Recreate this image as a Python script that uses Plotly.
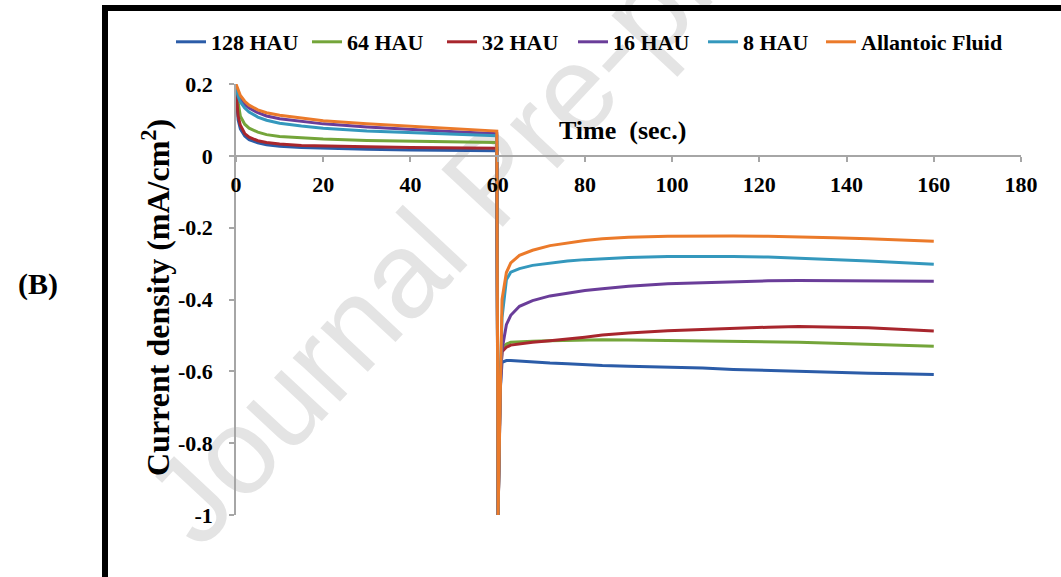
import plotly.graph_objects as go

# ---------------- data ----------------
series_names = ["128 HAU", "64 HAU", "32 HAU", "16 HAU", "8 HAU", "Allantoic Fluid"]
series_colors = ["#2B5CA8", "#74A53A", "#A8262D", "#6A3D99", "#3498BD", "#EB7A2A"]

t_phase1 = [0, 0.5, 1, 2, 3, 5, 7, 10, 15, 20, 30, 40, 50, 59.8]
t_spike = [60.1]
t_phase2 = [60.6, 61, 62, 63, 65, 68, 72, 76, 80, 84, 90, 99, 107, 114, 122, 129, 137, 145, 152, 160]

blue_1 = [0.175, 0.100, 0.075, 0.055, 0.045, 0.036, 0.031, 0.027, 0.023, 0.021, 0.018, 0.016, 0.015, 0.014]
green_1 = [0.185, 0.140, 0.110, 0.088, 0.077, 0.066, 0.059, 0.054, 0.050, 0.047, 0.043, 0.041, 0.039, 0.037]
red_1 = [0.180, 0.110, 0.085, 0.062, 0.052, 0.042, 0.037, 0.033, 0.029, 0.027, 0.025, 0.023, 0.022, 0.021]
purple_1 = [0.195, 0.175, 0.160, 0.143, 0.133, 0.120, 0.111, 0.103, 0.095, 0.089, 0.080, 0.073, 0.067, 0.062]
cyan_1 = [0.190, 0.165, 0.150, 0.133, 0.122, 0.108, 0.099, 0.091, 0.083, 0.077, 0.069, 0.064, 0.059, 0.056]
orange_1 = [0.200, 0.185, 0.168, 0.152, 0.141, 0.128, 0.120, 0.113, 0.105, 0.098, 0.089, 0.082, 0.075, 0.069]

spike_value = [-1.0]

blue_2 = [-0.650, -0.575, -0.570, -0.570, -0.572, -0.574, -0.577, -0.579, -0.582, -0.584,
          -0.586, -0.588, -0.591, -0.595, -0.598, -0.600, -0.603, -0.605, -0.607, -0.609]
green_2 = [-0.620, -0.535, -0.524, -0.519, -0.517, -0.516, -0.515, -0.514, -0.513, -0.512,
           -0.513, -0.514, -0.515, -0.516, -0.517, -0.519, -0.522, -0.525, -0.527, -0.530]
red_2 = [-0.620, -0.545, -0.533, -0.527, -0.523, -0.519, -0.515, -0.511, -0.505, -0.499,
         -0.493, -0.487, -0.483, -0.480, -0.477, -0.475, -0.476, -0.479, -0.483, -0.488]
purple_2 = [-0.650, -0.540, -0.470, -0.444, -0.419, -0.403, -0.390, -0.382, -0.375, -0.370,
            -0.363, -0.356, -0.353, -0.350, -0.348, -0.347, -0.347, -0.347, -0.348, -0.349]
cyan_2 = [-0.620, -0.450, -0.345, -0.324, -0.314, -0.305, -0.298, -0.293, -0.289, -0.286,
          -0.283, -0.280, -0.279, -0.280, -0.282, -0.285, -0.289, -0.293, -0.297, -0.302]
orange_2 = [-0.600, -0.400, -0.325, -0.298, -0.277, -0.263, -0.250, -0.242, -0.236, -0.231,
            -0.227, -0.224, -0.223, -0.223, -0.224, -0.225, -0.228, -0.231, -0.234, -0.238]

x_tickvals = [0, 20, 40, 60, 80, 100, 120, 140, 160, 180]
x_ticktext = ["0", "20", "40", "60", "80", "100", "120", "140", "160", "180"]
y_tickvals = [0.2, 0, -0.2, -0.4, -0.6, -0.8, -1.0]
y_ticktext = ["0.2", "0", "-0.2", "-0.4", "-0.6", "-0.8", "-1"]

x_title = "Time  (sec.)"
y_title = "Current density (mA/cm<sup>2</sup>)"
panel_label = "(B)"
watermark = "Journal Pre-proof"

phase1 = [blue_1, green_1, red_1, purple_1, cyan_1, orange_1]
phase2 = [blue_2, green_2, red_2, purple_2, cyan_2, orange_2]

# legend entry widths (px, style only)
legend_entry_px = [91, 90, 86, 85, 73, 150]

# ---------------- figure ----------------
W, H = 1061, 577
x_dom = [236 / W, 1021 / W]
y_dom = [1 - 515 / H, 1 - 84 / H]
y_range = [-1.0, 0.2]
zero_paper = y_dom[0] + (0 - y_range[0]) / (y_range[1] - y_range[0]) * (y_dom[1] - y_dom[0])

SERIF = "Liberation Serif, Times New Roman, serif"

fig = go.Figure()
for name, color, v1, v2, lw in zip(series_names, series_colors, phase1, phase2, legend_entry_px):
    fig.add_trace(go.Scatter(
        x=t_phase1 + t_spike + t_phase2,
        y=v1 + spike_value + v2,
        mode="lines",
        name=name,
        legendwidth=lw,
        line=dict(color=color, width=3),
    ))

axis_grey = "#A6A6A6"
fig.update_layout(
    width=W, height=H,
    margin=dict(l=0, r=0, t=0, b=0, autoexpand=False),
    paper_bgcolor="white", plot_bgcolor="white",
    font=dict(family=SERIF, color="black"),
    showlegend=True,
    legend=dict(
        orientation="h", x=171 / W, xanchor="left", y=1 - 42 / H, yanchor="middle",
        font=dict(family=SERIF, size=22, weight="bold", color="black"),
        bgcolor="rgba(0,0,0,0)", itemwidth=30, tracegroupgap=0,
    ),
    xaxis=dict(
        domain=x_dom, range=[0, 180], anchor="free", position=zero_paper, automargin=False,
        tickvals=x_tickvals, ticktext=x_ticktext,
        showgrid=False, zeroline=False, showline=True, linecolor=axis_grey, linewidth=1.5,
        ticks="outside", ticklen=5, tickcolor=axis_grey, tickwidth=1.5,
        ticklabelstandoff=4,
        tickfont=dict(family=SERIF, size=22, weight="bold", color="black"),
    ),
    yaxis=dict(
        domain=y_dom, range=y_range, automargin=False,
        tickvals=y_tickvals, ticktext=y_ticktext,
        showgrid=False, zeroline=False, showline=True, linecolor=axis_grey, linewidth=1.5,
        ticks="outside", ticklen=5, tickcolor=axis_grey, tickwidth=1.5,
        ticklabelstandoff=12,
        tickfont=dict(family=SERIF, size=22, weight="bold", color="black"),
    ),
)

# watermark (behind the traces)
wx, wy = 482, 170
fig.add_shape(
    type="rect", xref="paper", yref="paper",
    x0=(wx - 50) / W, x1=(wx + 50) / W, y0=1 - (wy + 50) / H, y1=1 - (wy - 50) / H,
    line=dict(width=0), fillcolor="rgba(0,0,0,0)", layer="below",
    label=dict(text=watermark, textangle=-47, textposition="middle center",
               font=dict(family="Liberation Sans, Arial, sans-serif", size=122, color="#E4E4E4")),
)

# thick outer frame
fig.add_shape(
    type="rect", xref="paper", yref="paper",
    x0=105 / W, x1=1.02, y0=-0.02, y1=1 - 8 / H,
    line=dict(color="black", width=6), fillcolor="rgba(0,0,0,0)",
)

fig.add_annotation(
    text=x_title, xref="paper", yref="paper", x=622 / W, y=1 - 130 / H,
    showarrow=False, xanchor="center", yanchor="middle",
    font=dict(family=SERIF, size=26, weight="bold", color="black"),
)
fig.add_annotation(
    text=y_title, xref="paper", yref="paper", x=156 / W, y=1 - 298 / H,
    showarrow=False, textangle=-90, xanchor="center", yanchor="middle",
    font=dict(family=SERIF, size=32, weight="bold", color="black"),
)
fig.add_annotation(
    text=panel_label, xref="paper", yref="paper", x=38 / W, y=1 - 284 / H,
    showarrow=False, xanchor="center", yanchor="middle",
    font=dict(family=SERIF, size=30, weight="bold", color="black"),
)

fig.write_html("out.html", config={"displayModeBar": False},
               post_script="document.body.style.margin='0px';")
